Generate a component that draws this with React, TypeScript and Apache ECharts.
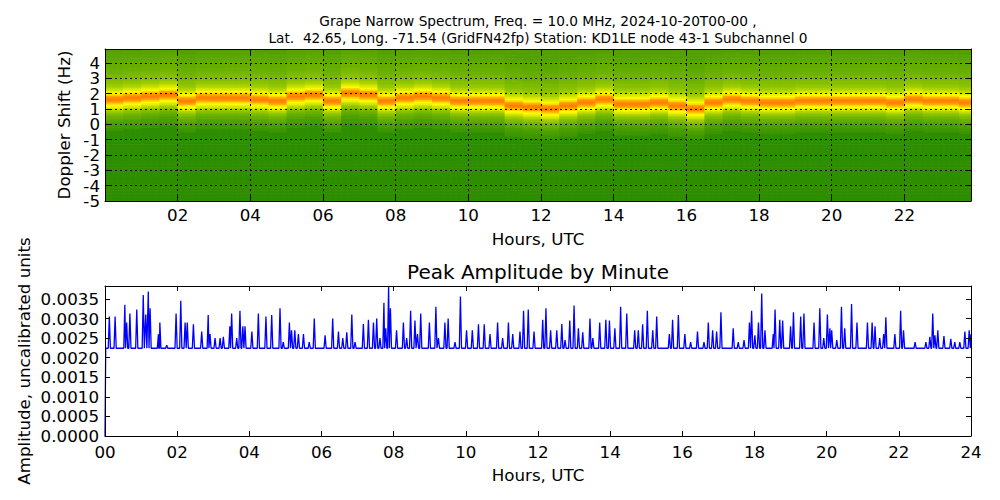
import React, { useEffect, useRef } from 'react';
import * as echarts from 'echarts';

const FONT = 'DejaVu Sans';

const TITLE_LINES = [
  'Grape Narrow Spectrum, Freq. = 10.0 MHz, 2024-10-20T00-00 ,',
  'Lat.  42.65, Long. -71.54 (GridFN42fp) Station: KD1LE node 43-1 Subchannel 0',
];
const LOWER_TITLE = 'Peak Amplitude by Minute';
const X_NAME = 'Hours, UTC';
const TOP_Y_NAME = 'Doppler Shift (Hz)';
const LOW_Y_NAME = 'Amplitude, uncalibrated units';

// Doppler tick labels, split into two sets so that ECharts does not drop any of them
const dopplerTicksOdd = [-5, -3, -1, 1, 3];
const dopplerTicksEven = [-4, -2, 0, 2, 4];

// ---- Spectrogram (top) ----
// Doppler shift of the carrier peak, read every half hour (00:00, 00:30, ...)
const peakDopplerHz = [
  1.67, 1.7, 1.8, 1.95, 1.6, 1.75, 1.78, 1.72, 1.62, 1.55, 1.85, 1.95,
  1.6, 2.0, 1.98, 1.55, 1.75, 1.8, 1.75, 1.6, 1.55, 1.5, 1.25, 1.15,
  1.1, 1.3, 1.4, 1.65, 1.35, 1.35, 1.4, 1.3, 1.1, 1.4, 1.65, 1.5,
  1.45, 1.45, 1.5, 1.55, 1.55, 1.5, 1.5, 1.45, 1.65, 1.55, 1.5, 1.4,
];
// relative intensity by offset from the peak, in 0.1 Hz steps, from -2.0 Hz to +3.0 Hz
const profileFirstOffset = -20;
const profileLevels = [
  0.15, 0.16, 0.17, 0.18, 0.19, 0.2, 0.22, 0.24, 0.26, 0.28,
  0.31, 0.34, 0.38, 0.43, 0.5, 0.58, 0.66, 0.74, 0.84, 0.92,
  0.96,
  0.92, 0.84, 0.74, 0.65, 0.57, 0.5, 0.45, 0.41, 0.38, 0.36,
  0.34, 0.33, 0.32, 0.31, 0.3, 0.29, 0.28, 0.27, 0.27, 0.26,
  0.26, 0.25, 0.25, 0.24, 0.24, 0.23, 0.23, 0.22, 0.22, 0.22,
];
const levelBelowBand = 0.11;
const levelAboveBand = 0.21;
const spectrumColors = ['#0b7a00', '#3f9800', '#86c000', '#d2e400', '#ffff00', '#ffa800', '#ff7000'];

// ---- Peak amplitude (bottom) ----
const amplitudeBaseline = 0.00224;
const spikeHours = [
  0.12, 0.28, 0.55, 0.6, 0.69, 0.88, 1.06, 1.13, 1.2, 1.25, 1.48, 1.52, 1.71, 1.97,
  2.1, 2.22, 2.28, 2.45, 2.68, 2.86, 2.91, 3.05, 3.19, 3.28, 3.46, 3.51, 3.65, 3.74,
  3.82, 3.88, 4.07, 4.25, 4.46, 4.62, 4.85, 4.94, 5.11, 5.17, 5.26, 5.36, 5.5, 5.66,
  5.8, 6.1, 6.31, 6.47, 6.59, 6.7, 6.84, 6.93, 7.16, 7.3, 7.44, 7.53, 7.62, 7.73,
  7.78, 7.86, 7.91, 8.08, 8.27, 8.36, 8.47, 8.59, 8.66, 8.75, 8.99, 9.17, 9.24, 9.42,
  9.51, 9.7, 9.85, 10.02, 10.18, 10.35, 10.51, 10.67, 10.88, 11.02, 11.18, 11.3, 11.5,
  11.6, 11.73, 11.89, 12.13, 12.22, 12.35, 12.52, 12.66, 12.75, 12.88, 13.0, 13.12,
  13.24, 13.44, 13.52, 13.71, 13.88, 13.98, 14.13, 14.29, 14.46, 14.68, 14.78, 14.9,
  15.03, 15.18, 15.29, 15.64, 15.73, 15.89, 16.07, 16.23, 16.42, 16.6, 16.72, 16.84,
  16.95, 17.07, 17.41, 17.55, 17.71, 17.86, 17.92, 18.01, 18.11, 18.2, 18.29, 18.52,
  18.57, 18.7, 18.78, 19.0, 19.08, 19.28, 19.37, 19.65, 19.81, 19.92, 20.02, 20.09,
  20.14, 20.28, 20.41, 20.5, 20.69, 20.84, 21.13, 21.26, 21.34, 21.47, 21.58, 21.64,
  21.89, 22.05, 22.13, 22.45, 22.75, 22.86, 22.94, 23.0, 23.08, 23.25, 23.44, 23.55,
  23.69, 23.83, 23.95,
];
const spikeAmps = [
  0.00305, 0.00305, 0.00335, 0.0029, 0.00313, 0.00323, 0.0036, 0.0031, 0.00369, 0.00326, 0.0026, 0.0029, 0.00232, 0.00313,
  0.00345, 0.0029, 0.0029, 0.00285, 0.00267, 0.00309, 0.0026, 0.0025, 0.0025, 0.00253, 0.0028, 0.00313, 0.0025, 0.0032,
  0.0028, 0.0028, 0.00267, 0.00313, 0.00305, 0.00309, 0.00326, 0.0024, 0.0029, 0.0027, 0.0027, 0.0026, 0.0026, 0.0024,
  0.003, 0.00257, 0.003, 0.00267, 0.0025, 0.00265, 0.0031, 0.0024, 0.00286, 0.00297, 0.0029, 0.003, 0.0025, 0.0034,
  0.00275, 0.00381, 0.00326, 0.0027, 0.0029, 0.0025, 0.0032, 0.00295, 0.0026, 0.00313, 0.0029, 0.0033, 0.0025, 0.0029,
  0.003, 0.0024, 0.00356, 0.0027, 0.0027, 0.00285, 0.00285, 0.0026, 0.0029, 0.0025, 0.0029, 0.0026, 0.00267,
  0.0032, 0.00323, 0.00267, 0.00297, 0.00326, 0.0027, 0.0027, 0.00286, 0.00245, 0.00295, 0.00333, 0.00275,
  0.00265, 0.003, 0.0025, 0.0029, 0.00297, 0.00295, 0.00275, 0.0033, 0.00313, 0.0027, 0.0027, 0.00285,
  0.0032, 0.0027, 0.00305, 0.0026, 0.00297, 0.00309, 0.0026, 0.0024, 0.00267, 0.0024, 0.0029, 0.0027,
  0.00267, 0.00316, 0.00275, 0.0024, 0.00245, 0.0029, 0.0032, 0.00257, 0.0029, 0.00364, 0.0027, 0.0026,
  0.00323, 0.00297, 0.00295, 0.0028, 0.00316, 0.00305, 0.00313, 0.0029, 0.00326, 0.0025, 0.0031, 0.00275,
  0.0027, 0.00245, 0.0033, 0.00275, 0.00337, 0.0029, 0.0029, 0.0029, 0.0028, 0.0025, 0.0026, 0.00303,
  0.0026, 0.0032, 0.0027, 0.0024, 0.0024, 0.00253, 0.00313, 0.00257, 0.0027, 0.00255, 0.00248, 0.0024,
  0.0024, 0.00267, 0.0027,
];
const amplitudeStart: [number, number] = [0, 0];
const amplitudeEnd: [number, number] = [24, 0.0026];

// ---- derived tables ----
const BIN_MIN = 10;
const BIN_HZ = 0.1;
const X_BINS = 143;
const Y_BINS = 100;
const TOP_X_MAX = (X_BINS * BIN_MIN) / 60;

function buildSpectrum() {
  const cells: number[][] = [];
  for (let i = 0; i < X_BINS; i++) {
    const t0 = (i * BIN_MIN) / 60;
    const t1 = ((i + 1) * BIN_MIN) / 60;
    const peak = peakDopplerHz[Math.min(peakDopplerHz.length - 1, Math.floor(t0 * 2))];
    const peakBin = Math.round((peak + 5) / BIN_HZ - 0.5);
    for (let j = 0; j < Y_BINS; j++) {
      const idx = j - peakBin - profileFirstOffset;
      let lvl: number;
      if (idx < 0) lvl = levelBelowBand;
      else if (idx >= profileLevels.length) lvl = levelAboveBand;
      else lvl = profileLevels[idx];
      const y0 = -5 + j * BIN_HZ;
      cells.push([t0, t1, y0, y0 + BIN_HZ, lvl]);
    }
  }
  return cells;
}

function buildAmplitude() {
  const w = 0.03;
  const pts: [number, number][] = [amplitudeStart, [0.02, amplitudeBaseline]];
  for (let i = 0; i < spikeHours.length; i++) {
    const h = spikeHours[i];
    pts.push([h - w, amplitudeBaseline], [h, spikeAmps[i]], [h + w, amplitudeBaseline]);
  }
  pts.push(amplitudeEnd);
  pts.sort((a, b) => a[0] - b[0]);
  return pts;
}

const pad2 = (v: number) => (v < 10 ? '0' + v : '' + v);

const FS = 16.7;
const frame = { show: true, onZero: false, lineStyle: { color: '#000', width: 1 } };
const ticksIn = { show: true, inside: true, length: 5, lineStyle: { color: '#000', width: 1 } };
const labelStyle = { color: '#000', fontSize: FS, fontFamily: FONT };
const nameStyle = { color: '#000', fontSize: FS, fontFamily: FONT };
const dotted = { show: true, lineStyle: { color: '#000', width: 1, type: [2, 3] as any } };
const hidden = { show: false };

export default function App() {
  const ref = useRef<HTMLDivElement>(null);
  useEffect(() => {
    document.body.style.margin = '0';
    const chart = echarts.init(ref.current!, null, { renderer: 'svg' });
    const spectrum = buildSpectrum();
    const amplitude = buildAmplitude();
    const dopplerLabel = (ticks: number[]) => ({
      ...labelStyle,
      margin: 5,
      lineHeight: 14,
      customValues: ticks,
      showMinLabel: true,
      showMaxLabel: true,
      formatter: (v: number) => String(v),
    });
    const option: any = {
      animation: false,
      backgroundColor: '#fff',
      textStyle: { fontFamily: FONT },
      title: [
        {
          text: TITLE_LINES.join('\n'),
          left: 538,
          top: 12,
          textAlign: 'center',
          padding: 0,
          textStyle: { fontSize: 13.7, fontWeight: 'normal', lineHeight: 17, color: '#000', fontFamily: FONT },
        },
        {
          text: LOWER_TITLE,
          left: 538,
          top: 260,
          textAlign: 'center',
          padding: 0,
          textStyle: { fontSize: 20, fontWeight: 'normal', lineHeight: 24, color: '#000', fontFamily: FONT },
        },
      ],
      grid: [
        { left: 105, top: 49, width: 866, height: 152, containLabel: false },
        { left: 105, top: 286, width: 866, height: 150, containLabel: false },
      ],
      visualMap: {
        type: 'continuous',
        show: false,
        min: 0,
        max: 1,
        dimension: 4,
        seriesIndex: 0,
        inRange: { color: spectrumColors },
      },
      xAxis: [
        {
          type: 'value', gridIndex: 0, position: 'bottom', min: 0, max: TOP_X_MAX, interval: 2, z: 10,
          axisLine: frame, axisTick: ticksIn, splitLine: dotted,
          axisLabel: {
            ...labelStyle, margin: 5, showMinLabel: false, showMaxLabel: false,
            formatter: (v: number) => (v === 0 || v % 2 !== 0 ? '' : pad2(v)),
          },
          name: X_NAME, nameLocation: 'middle', nameGap: 29, nameTextStyle: nameStyle,
        },
        {
          type: 'value', gridIndex: 0, position: 'top', min: 0, max: TOP_X_MAX, interval: 2, z: 10,
          axisLine: frame, axisTick: ticksIn, splitLine: hidden, axisLabel: hidden,
        },
        {
          type: 'value', gridIndex: 1, position: 'bottom', min: 0, max: 24, interval: 2, z: 10,
          axisLine: frame, axisTick: ticksIn, splitLine: hidden,
          axisLabel: { ...labelStyle, margin: 7, showMinLabel: true, showMaxLabel: true, formatter: (v: number) => pad2(v) },
          name: X_NAME, nameLocation: 'middle', nameGap: 30, nameTextStyle: nameStyle,
        },
        {
          type: 'value', gridIndex: 1, position: 'top', min: 0, max: 24, interval: 2, z: 10,
          axisLine: frame, axisTick: ticksIn, splitLine: hidden, axisLabel: hidden,
        },
      ],
      yAxis: [
        {
          type: 'value', gridIndex: 0, position: 'left', min: -5, max: 4.9, interval: 1, z: 10,
          axisLine: frame, axisTick: ticksIn, splitLine: dotted,
          axisLabel: dopplerLabel(dopplerTicksOdd),
          name: TOP_Y_NAME, nameLocation: 'middle', nameGap: 30, nameTextStyle: nameStyle,
        },
        {
          type: 'value', gridIndex: 0, position: 'right', min: -5, max: 4.9, interval: 1, z: 10,
          axisLine: frame, axisTick: ticksIn, splitLine: hidden, axisLabel: hidden,
        },
        {
          type: 'value', gridIndex: 1, position: 'left', min: 0, max: 0.00383, interval: 0.0005, z: 10,
          axisLine: frame, axisTick: ticksIn, splitLine: hidden,
          axisLabel: {
            ...labelStyle, margin: 6, lineHeight: 17, showMinLabel: true, showMaxLabel: false,
            formatter: (v: number) => v.toFixed(4),
          },
          name: LOW_Y_NAME, nameLocation: 'middle', nameGap: 73, nameMoveOverlap: false, nameTextStyle: nameStyle,
        },
        {
          type: 'value', gridIndex: 1, position: 'right', min: 0, max: 0.00383, interval: 0.0005, z: 10,
          axisLine: frame, axisTick: ticksIn, splitLine: hidden, axisLabel: hidden,
        },
        {
          type: 'value', gridIndex: 0, position: 'left', offset: 0, min: -5, max: 4.9, interval: 1, z: 10,
          axisLine: hidden, axisTick: hidden, splitLine: hidden,
          axisLabel: dopplerLabel(dopplerTicksEven),
        },
      ],
      series: [
        {
          type: 'custom',
          xAxisIndex: 0,
          yAxisIndex: 0,
          clip: true,
          z: 2,
          encode: { x: [0, 1], y: [2, 3] },
          data: spectrum,
          renderItem: (params: any, api: any) => {
            const p0 = api.coord([api.value(0), api.value(3)]);
            const p1 = api.coord([api.value(1), api.value(2)]);
            const rect = echarts.graphic.clipRectByRect(
              { x: p0[0], y: p0[1], width: p1[0] - p0[0] + 0.6, height: p1[1] - p0[1] + 0.6 },
              params.coordSys as any
            );
            if (!rect) return null;
            return { type: 'rect', shape: rect, style: { fill: api.visual('color') } };
          },
        },
        {
          type: 'line',
          xAxisIndex: 2,
          yAxisIndex: 2,
          data: amplitude,
          symbol: 'none',
          lineStyle: { color: '#0000ff', width: 1.3 },
          z: 3,
        },
      ],
    };
    chart.setOption(option);
    return () => chart.dispose();
  }, []);
  return <div ref={ref} style={{ width: 1000, height: 500 }} />;
}
